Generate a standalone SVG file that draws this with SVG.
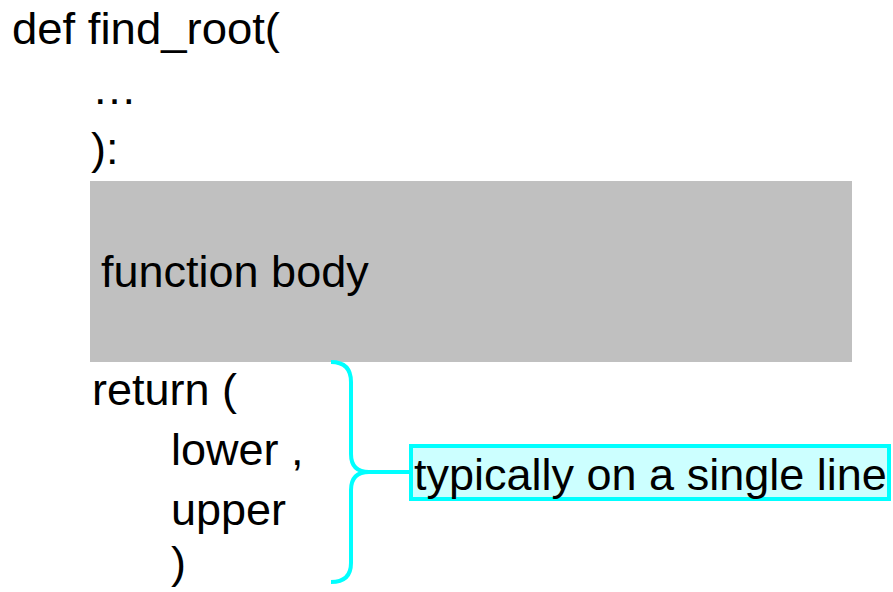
<svg xmlns="http://www.w3.org/2000/svg" width="893" height="592" viewBox="0 0 893 592">
<style>
text{font-family:"Liberation Sans",Arial,sans-serif;font-size:45px;fill:#000}
.brace{fill:none;stroke:#00ffff;stroke-width:4}
</style>
<rect width="893" height="592" fill="#fff"/>
<g id="signature">
<text x="12" y="44" textLength="268" lengthAdjust="spacingAndGlyphs">def find_root(</text>
<text x="92" y="104">…</text>
<text x="91" y="164">):</text>
</g>
<g id="body">
<rect x="90" y="181" width="762" height="181" fill="#c0c0c0"/>
<text x="101" y="287">function body</text>
</g>
<g id="return">
<text x="92" y="405">return (</text>
<text x="171" y="465">lower ,</text>
<text x="171" y="525">upper</text>
<text x="171" y="578">)</text>
</g>
<g id="connectors">
<path class="brace" d="M331,362 Q351,362 351,382 L351,454 Q351,472 369,472 M369,472 Q351,472 351,490 L351,563 Q351,582 331,582 M369,472 L411,472"/>
</g>
<g id="note">
<rect x="411" y="446" width="478" height="53" fill="#ccffff" stroke="#00ffff" stroke-width="4"/>
<text x="414" y="490">typically on a single line</text>
</g>
</svg>
